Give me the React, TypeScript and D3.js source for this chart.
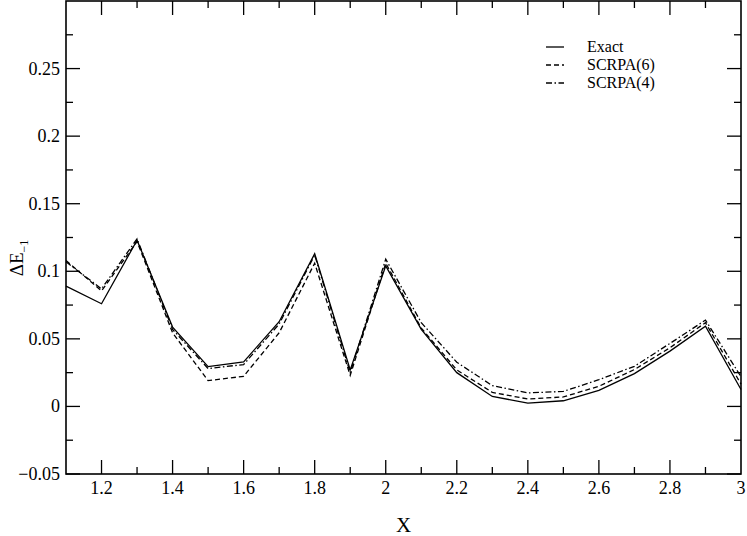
import React from 'react';
import * as d3 from 'd3';

const xs = [1.1, 1.2, 1.3, 1.4, 1.5, 1.6, 1.7, 1.8, 1.9, 2.0, 2.1, 2.2, 2.3, 2.4, 2.5, 2.6, 2.7, 2.8, 2.9, 3.0];
const exact = [0.089, 0.076, 0.123, 0.0587, 0.0295, 0.033, 0.0627, 0.113, 0.027, 0.104, 0.057, 0.025, 0.0074, 0.0025, 0.0042, 0.0119, 0.0243, 0.0409, 0.0594, 0.0125];
const scrpa6 = [0.108, 0.0855, 0.122, 0.0545, 0.0191, 0.0223, 0.0545, 0.106, 0.023, 0.106, 0.058, 0.027, 0.0104, 0.0055, 0.007, 0.0149, 0.0273, 0.0434, 0.062, 0.0165];
const scrpa4 = [0.107, 0.087, 0.124, 0.057, 0.028, 0.031, 0.061, 0.112, 0.025, 0.109, 0.062, 0.0327, 0.0154, 0.01, 0.0111, 0.0198, 0.0297, 0.0466, 0.0639, 0.022];

const seriesNames = ['Exact', 'SCRPA(6)', 'SCRPA(4)'];
const dashes = [undefined, '5,3', '6,2.5,1.5,2.5'];

const xMajor = [1.2, 1.4, 1.6, 1.8, 2, 2.2, 2.4, 2.6, 2.8, 3];
const yMajor = [-0.05, 0, 0.05, 0.1, 0.15, 0.2, 0.25];

const FONT = "'Liberation Serif'";

const W = 747, H = 536;
const left = 66, right = 741, top = 1, bottom = 474;

const App = () => {
  const x = d3.scaleLinear().domain([1.1, 3]).range([left, right]);
  const y = d3.scaleLinear().domain([-0.05, 0.3]).range([bottom, top]);
  const line = d3.line<number>().x((_, i) => x(xs[i])).y((d) => y(d));
  const fmt = d3.format('');

  const xMinor = d3.range(12, 30).map((d) => d / 10);
  const yMinor = d3.range(-2, 12).map((d) => d * 0.025);
  const isMajor = (arr: number[], v: number) => arr.some((m) => Math.abs(m - v) < 1e-6);

  const ly = [46, 64, 82];

  return (
    <div style={{ position: 'absolute', left: 0, top: 0 }}>
      <svg width={W} height={H}>
        {/* ticks, inside, mirrored on all four sides */}
        <g stroke="#000" strokeWidth={1.3}>
          {xMinor.map((v) => {
            const len = isMajor(xMajor, v) ? 14 : 7;
            return (
              <g key={'x' + v}>
                <line x1={x(v)} x2={x(v)} y1={bottom} y2={bottom - len} />
                <line x1={x(v)} x2={x(v)} y1={top} y2={top + len} />
              </g>
            );
          })}
          {yMinor.map((v) => {
            const len = isMajor(yMajor, v) ? 14 : 7;
            return (
              <g key={'y' + v}>
                <line x1={left} x2={left + len} y1={y(v)} y2={y(v)} />
                <line x1={right} x2={right - len} y1={y(v)} y2={y(v)} />
              </g>
            );
          })}
        </g>
        <rect x={left} y={top} width={right - left} height={bottom - top} fill="none" stroke="#000" strokeWidth={1.6} />

        {xMajor.map((v) => (
          <text key={'xt' + v} x={x(v)} y={494} textAnchor="middle" style={{ fontFamily: FONT, fontSize: 18 }}>
            {fmt(v)}
          </text>
        ))}
        {yMajor.map((v) => (
          <text key={'yt' + v} x={60} y={y(v) + 6} textAnchor="end" style={{ fontFamily: FONT, fontSize: 18 }}>
            {fmt(v)}
          </text>
        ))}

        <text x={x(2.05)} y={532} textAnchor="middle" style={{ fontFamily: FONT, fontSize: 21 }}>X</text>
        <text transform="translate(23,258) rotate(-90)" textAnchor="middle" style={{ fontFamily: FONT, fontSize: 19 }}>
          ΔE<tspan dy={5} style={{ fontSize: 12 }}>−1</tspan>
        </text>

        {[exact, scrpa6, scrpa4].map((vals, k) => (
          <path key={seriesNames[k]} d={line(vals) || ''} fill="none" stroke="#000" strokeWidth={1.3} strokeDasharray={dashes[k]} />
        ))}

        {seriesNames.map((name, k) => (
          <g key={'lg' + name}>
            <line x1={546} x2={564} y1={ly[k] + 1} y2={ly[k] + 1} stroke="#000" strokeWidth={1.3} strokeDasharray={dashes[k]} />
            <text x={587} y={ly[k] + 6} style={{ fontFamily: FONT, fontSize: 16 }}>{name}</text>
          </g>
        ))}
      </svg>
    </div>
  );
};

export default App;
